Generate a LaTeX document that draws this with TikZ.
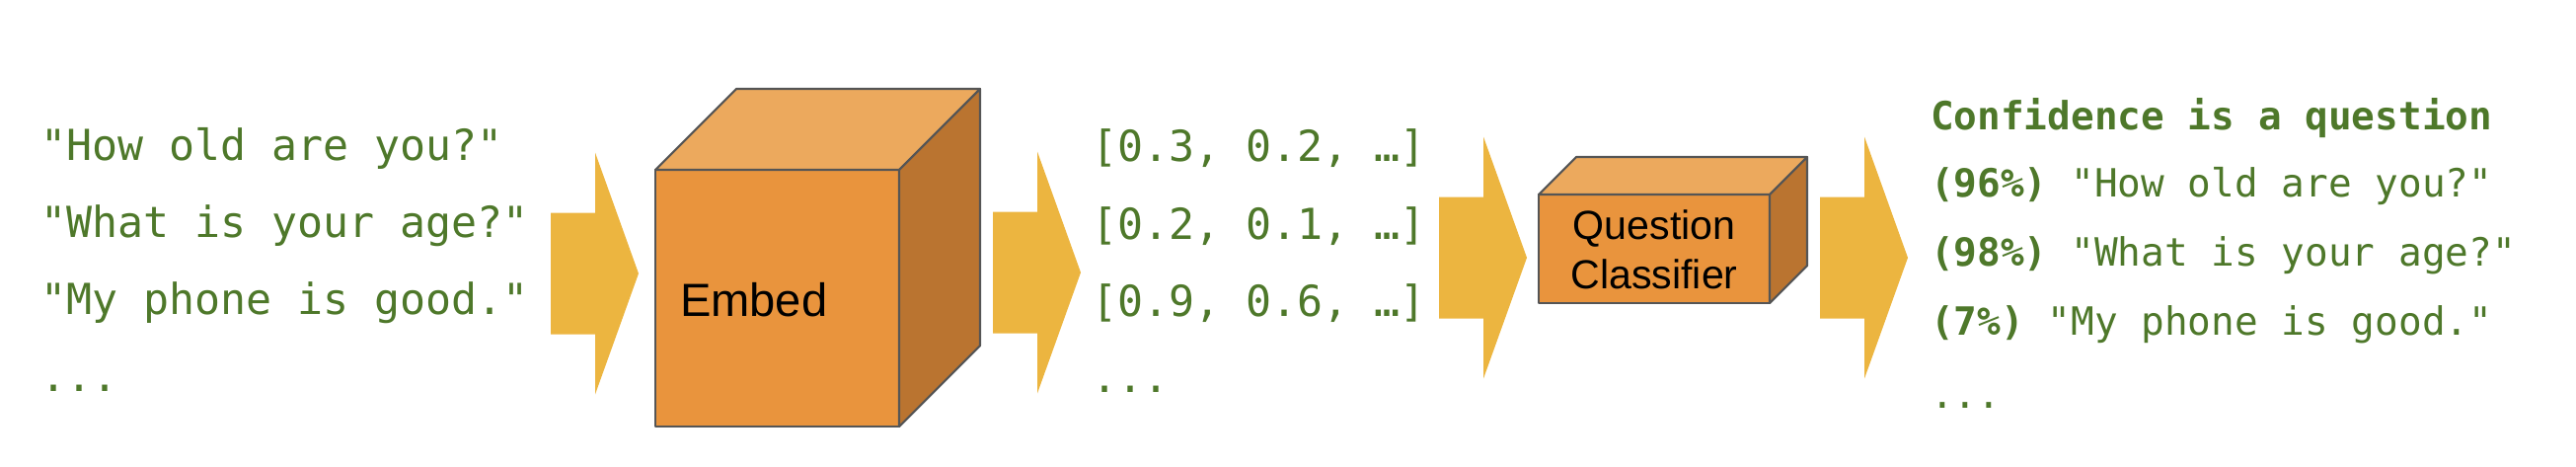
\documentclass[tikz,border=0pt]{standalone}
\usepackage{fontspec}
\setmainfont{Liberation Sans}
\setmonofont{DejaVu Sans Mono}
\usetikzlibrary{positioning}

\definecolor{textgreen}{RGB}{78,120,42}
\definecolor{arrowyellow}{RGB}{236,181,64}
\definecolor{cubefront}{RGB}{233,148,61}
\definecolor{cubetop}{RGB}{236,169,93}
\definecolor{cubeside}{RGB}{186,116,48}
\definecolor{edgegray}{RGB}{85,85,85}

% x, y (front top left), width, height, depth
\newcommand{\drawcube}[5]{%
	\filldraw[draw=edgegray,fill=cubefront] (#1,#2) rectangle ++(#3,#4);
	\filldraw[draw=edgegray,fill=cubetop] (#1,#2) -- ++(#5,-#5) -- ++(#3,0) -- ++(-#5,#5) -- cycle;
	\filldraw[draw=edgegray,fill=cubeside] (#1+#3,#2) -- ++(#5,-#5) -- ++(0,#4) -- ++(-#5,#5) -- cycle;
}

\begin{document}
\begin{tikzpicture}[x=0.01cm,y=-0.01cm,line width=0.6pt,line join=round,
	txt/.style={anchor=base west,inner sep=0pt,text=textgreen,
		font=\ttfamily\fontsize{12.3}{14}\selectfont},
	small txt/.style={txt,font=\ttfamily\fontsize{11.2}{13}\selectfont},
	box label/.style={inner sep=0pt,text=black}]
	
	\useasboundingbox (0,0) rectangle (2610,472);
	
	% block arrows
	\foreach \ax/\ay in {558/277,1006/276,1458/261,1844/261}
	\fill[arrowyellow] (\ax,\ay-61.5) -- ++(45,0) -- ++(0,-61) -- ++(44,122.5)
		-- ++(-44,122.5) -- ++(0,-61) -- ++(-45,0) -- cycle;
	
	% input sentences
	\node[txt] (s1) at (40,162) {"How old are you?"};
	\node[txt] (s2) at (40,240) {"What is your age?"};
	\node[txt] (s3) at (40,318) {"My phone is good."};
	\node[txt] (s4) at (40,396) {...};
	
	% embedding
	\drawcube{664}{172}{247}{260}{82}
	\node[box label,anchor=base west,font=\fontsize{13.4}{16}\selectfont] (embed) at (688,320) {Embed};
	
	% vectors
	\node[txt] (v1) at (1105,163) {[0.3, 0.2, …]};
	\node[txt] (v2) at (1105,242) {[0.2, 0.1, …]};
	\node[txt] (v3) at (1105,320) {[0.9, 0.6, …]};
	\node[txt] (v4) at (1105,397) {...};
	
	% classifier
	\drawcube{1559}{197}{234}{110}{38}
	\node[box label,align=center,font=\fontsize{11.7}{14.2}\selectfont] (clf) at (1676,253) {Question\\Classifier};
	
	% output
	\node[small txt] (o0) at (1955,131) {\bfseries Confidence is a question};
	\node[small txt] (o1) at (1955,199) {{\bfseries(96\%)} "How old are you?"};
	\node[small txt] (o2) at (1955,269) {{\bfseries(98\%)} "What is your age?"};
	\node[small txt] (o3) at (1955,339) {{\bfseries(7\%)} "My phone is good."};
	\node[small txt] (o4) at (1955,413) {...};
\end{tikzpicture}
\end{document}
